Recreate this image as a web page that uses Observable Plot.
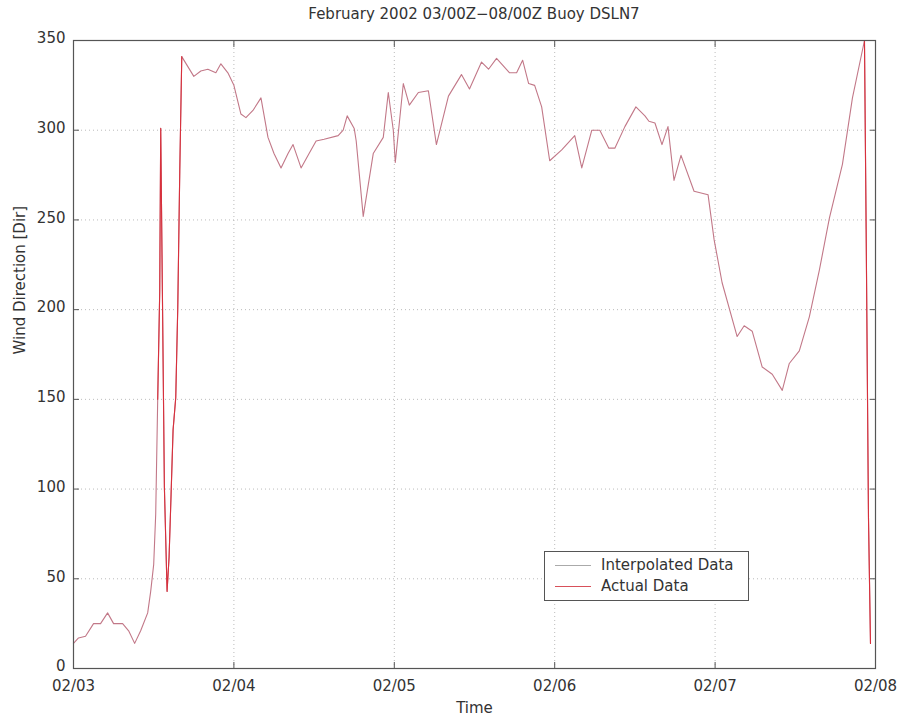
<!DOCTYPE html>
<html><head><meta charset="utf-8">
<script src="https://cdn.jsdelivr.net/npm/d3@7"></script>
<script src="https://cdn.jsdelivr.net/npm/@observablehq/plot@0.6"></script>
<style>
body{margin:0;background:#fff;font-family:"DejaVu Sans",sans-serif;}
#wrap{position:relative;width:901px;height:719px;background:#fff;}
#title{position:absolute;left:73px;width:802px;top:4px;text-align:center;font-size:15px;color:#333;line-height:20px;}
#chart{position:absolute;left:0;top:28px;}
#legend{position:absolute;left:544px;top:551px;width:203px;height:48px;border:1px solid #555;background:#fff;font-size:15px;color:#333;}
#legend .row{position:absolute;left:10px;height:20px;line-height:20px;}
#legend .row span.sw{display:inline-block;width:36px;height:0;vertical-align:middle;margin-right:10px;border-top:1px solid;}
</style></head><body>
<div id="wrap">
<div id="title"></div>
<div id="chart"></div>
<div id="legend"></div>
</div>
<script>
// Title and labels
const titleText = "February 2002 03/00Z\u221208/00Z Buoy DSLN7";
const xLabel = "Time";
const yLabel = "Wind Direction [Dir]";
const seriesNames = ["Interpolated Data", "Actual Data"];
const seriesColors = ["#c27888", "#d8303c"];
const legendColors = ["#aaaaaa", "#d8505a"];

// Hours after 2002-02-03 00Z and wind direction (degrees)
const hours = [0,0.75,1.8,3.0,4.05,5.1,6.0,7.35,8.25,9.15,10.05,11.1,11.55,12.0,12.3,12.6,12.9,13.05,13.3,13.6,14.0,14.3,14.6,14.9,15.3,15.6,15.9,16.2,
18.0,19.05,20.1,21.3,22.05,23.1,24.0,25.05,25.8,26.85,28.05,29.1,30.0,31.05,32.1,32.85,34.05,35.25,36.3,37.5,39.6,40.35,40.95,42.0,42.3,43.35,
44.85,46.35,47.1,47.85,48.15,49.35,50.25,51.6,53.1,54.3,56.1,58.05,59.25,61.05,62.1,63.3,65.25,66.3,67.2,68.1,69.0,70.05,71.25,73.05,75.0,
76.05,77.55,78.75,80.1,81.0,82.5,84.15,85.5,86.1,87.0,88.05,88.95,89.85,90.9,92.85,94.95,95.85,97.05,99.3,100.35,101.55,103.05,104.55,106.05,
107.1,108.6,110.1,111.6,113.1,115.05,116.55,118.35,118.6,118.95,119.25];
const dirs = [14,17,18,25,25,31,25,25,21,14,21,31,43,58,86,150,210,301,210,101,43,62,97,133,151,201,277,341,
330,333,334,332,337,332,325,309,307,311,318,296,287,279,287,292,279,287,294,295,297,300,308,301,294,252,
287,296,321,300,282,326,314,321,322,292,319,331,323,338,334,340,332,332,339,326,325,313,283,289,297,
279,300,300,290,290,302,313,308,305,304,292,302,272,286,266,264,239,215,185,191,188,168,164,155,
170,177,196,222,251,281,318,350,245,84,14];

// Actual (measured) data segments
const actualHours = [12.6,12.9,13.05,13.3,13.6,14.0,14.3,14.6,14.9,15.3,15.6,15.9,16.2, 118.35,118.6,118.95,119.25];
const actualDirs  = [150,210,301,210,101,43,62,97,133,151,201,277,341, 350,245,84,14];
const actualSeg   = [1,1,1,1,1,1,1,1,1,1,1,1,1, 2,2,2,2];

// Axis ticks
const xTickDays = [3,4,5,6,7,8];
const yTicks = [0,50,100,150,200,250,300,350];

const t0 = Date.UTC(2002,1,3);
const toDate = h => new Date(t0 + h*3600e3);
const xTicks = xTickDays.map(d => new Date(Date.UTC(2002,1,d)));
const interp = hours.map((h,i) => ({t: toDate(h), v: dirs[i]}));
const actual = actualHours.map((h,i) => ({t: toDate(h), v: actualDirs[i], seg: actualSeg[i]}));

document.getElementById("title").textContent = titleText;

const font = "DejaVu Sans, sans-serif";
const plot = Plot.plot({
  width: 901, height: 691,
  marginTop: 12, marginLeft: 73, marginRight: 26, marginBottom: 51,
  style: {fontFamily: font, fontSize: "15px", color: "#333", background: "#fff", overflow: "visible"},
  x: {type: "utc", domain: [xTicks[0], xTicks[xTicks.length-1]]},
  y: {domain: [0, 350]},
  marks: [
    Plot.gridX(xTicks, {stroke: "#aaa", strokeOpacity: 0.8, strokeDasharray: "1,3"}),
    Plot.gridY(yTicks, {stroke: "#aaa", strokeOpacity: 0.8, strokeDasharray: "1,3"}),
    Plot.line(interp, {x: "t", y: "v", stroke: seriesColors[0], strokeWidth: 1.1}),
    Plot.line(actual, {x: "t", y: "v", z: "seg", stroke: seriesColors[1], strokeWidth: 1.1}),
    Plot.frame({stroke: "#555", strokeWidth: 1.2}),
    Plot.axisX(xTicks, {anchor: "bottom", tickSize: -6, tickPadding: 18, tickFormat: d3.utcFormat("%m/%d"), label: null, stroke: "#555", fontSize: 15}),
    Plot.axisX(xTicks, {anchor: "top", tickSize: -6, tickFormat: () => "", label: null, stroke: "#555"}),
    Plot.axisY(yTicks, {anchor: "left", tickSize: -6, tickFormat: () => "", label: null, stroke: "#555"}),
    Plot.axisY(yTicks, {anchor: "left", tickSize: 0, tickPadding: 8, dy: -2, label: null, fontSize: 15}),
    Plot.axisY(yTicks, {anchor: "right", tickSize: -6, tickFormat: () => "", label: null, stroke: "#555"}),
    Plot.text([xLabel], {frameAnchor: "bottom", dy: 44, fontSize: 15, fill: "#333"}),
    Plot.text([yLabel], {frameAnchor: "left", rotate: -90, dx: -53, fontSize: 15, fill: "#333"})
  ]
});
document.getElementById("chart").appendChild(plot);

// Legend
const leg = document.getElementById("legend");
seriesNames.forEach((name, i) => {
  const row = document.createElement("div");
  row.className = "row";
  row.style.top = (3 + i*21) + "px";
  const sw = document.createElement("span");
  sw.className = "sw";
  sw.style.borderTopColor = legendColors[i];
  row.appendChild(sw);
  row.appendChild(document.createTextNode(name));
  leg.appendChild(row);
});
</script>
</body></html>
